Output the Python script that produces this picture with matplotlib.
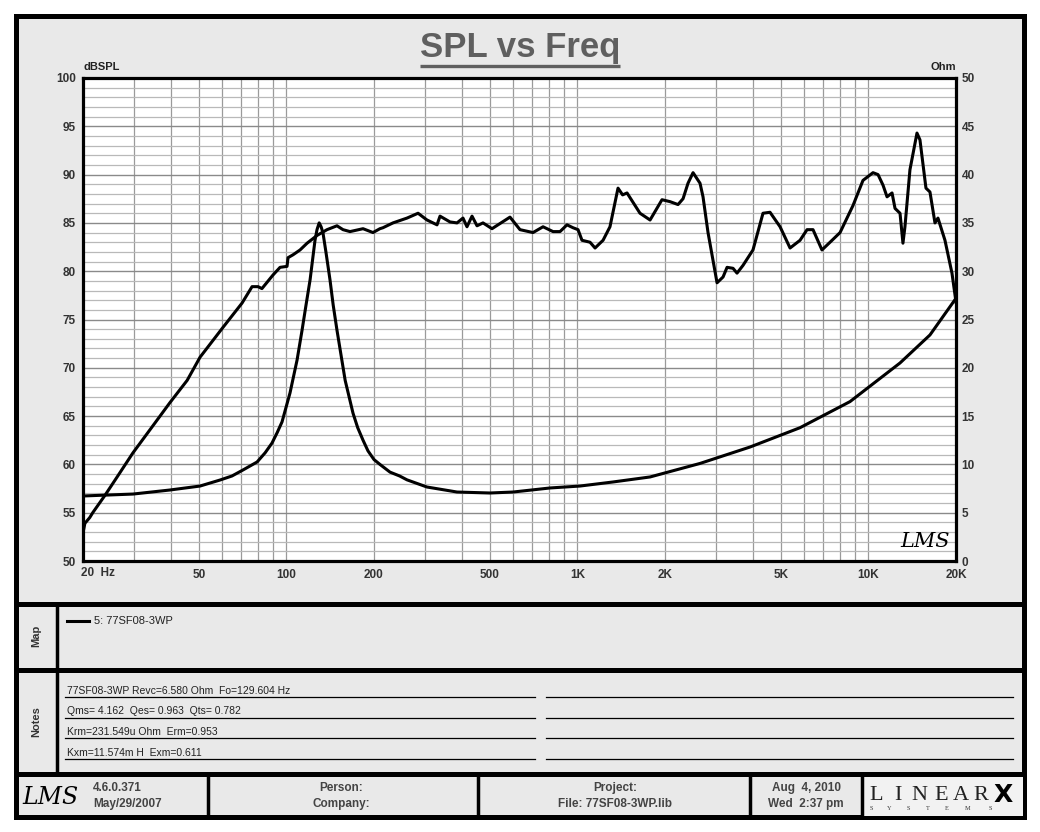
import matplotlib
matplotlib.use("Agg")
import matplotlib.pyplot as plt
from matplotlib.patches import Rectangle
from matplotlib.ticker import FixedLocator, NullFormatter

plt.rcParams['font.family'] = ['Liberation Sans', 'DejaVu Sans']

# ---------------- data ----------------
spl_freq = [20, 20.3, 21.1, 21.6, 23.8, 26.2, 29.7, 34.0, 39.8, 45.6, 50.5, 60.6, 70.4,
            76.2, 79.9, 82.4, 89.9, 95.1, 100.5, 101.3, 105.4, 111.4, 117.8, 127.4,
            137.9, 149.2, 156.5, 165.4, 183.4, 198.4, 209.6, 214.7, 232.4, 259.7,
            283.4, 304.2, 329.3, 337.2, 364.9, 385.7, 404.4, 417.4, 434.4, 451.9,
            473.8, 508.8, 533.5, 586.6, 634.9, 703.9, 761.9, 824.6, 871.6, 921.1,
            965.8, 1005, 1037, 1105, 1150, 1196, 1225, 1294, 1379, 1430, 1481, 1641,
            1777, 1953, 2081, 2217, 2307, 2399, 2497, 2639, 2702, 2811, 3019, 3166,
            3268, 3426, 3536, 3707, 4012, 4343, 4591, 4971, 5380, 5822, 6154, 6452,
            6925, 7383, 7991, 8853, 9580, 9969, 10371, 10794, 11228, 11589, 12057,
            12346, 12843, 13144, 13353, 13892, 14686, 15037, 15768, 16277, 16934,
            17340, 18328, 19372, 20000]
spl_db = [52.9, 53.9, 54.5, 55.0, 56.8, 58.7, 61.2, 63.6, 66.4, 68.7, 71.1, 74.2, 76.7,
          78.4, 78.4, 78.2, 79.6, 80.4, 80.5, 81.4, 81.7, 82.2, 82.9, 83.7,
          84.3, 84.7, 84.3, 84.1, 84.4, 84.0, 84.4, 84.5, 85.0, 85.5,
          86.0, 85.3, 84.8, 85.7, 85.1, 85.0, 85.5, 84.6, 85.7, 84.7,
          85.0, 84.4, 84.8, 85.6, 84.3, 84.0, 84.6, 84.1, 84.1, 84.8,
          84.5, 84.3, 83.2, 83.0, 82.4, 82.9, 83.2, 84.6, 88.6, 87.9, 88.1, 86.0,
          85.3, 87.4, 87.2, 86.9, 87.5, 89.1, 90.2, 89.1, 87.7, 84.0, 78.8, 79.4,
          80.4, 80.3, 79.8, 80.6, 82.2, 86.0, 86.1, 84.6, 82.4, 83.2, 84.3, 84.3,
          82.2, 83.0, 84.0, 86.8, 89.4, 89.8, 90.2, 90.0, 88.9, 87.7, 88.1,
          86.5, 86.0, 82.9, 84.6, 90.5, 94.3, 93.6, 88.6, 88.2, 85.0,
          85.5, 83.2, 79.8, 76.8]

imp_freq = [20, 29.7, 39.8, 50.5, 59.1, 65.0, 70.9, 79.3, 84.5, 89.2, 93.0, 96.6, 102.9,
            108.8, 113.2, 116.8, 120.6, 125.4, 127.4, 129.6, 131.6, 133.6, 136.7, 141.2,
            144.8, 149.2, 159.2, 169.4, 175.8, 183.4, 190.7, 200, 209.6, 227, 245,
            259.7, 304, 385.7, 500.8, 600.9, 805, 1021, 1325, 1777, 2639, 3920, 5822,
            8645, 12843, 16277, 20000]
imp_ohm = [6.73, 6.93, 7.35, 7.76, 8.38, 8.8, 9.42, 10.25, 11.2, 12.2, 13.3, 14.4, 17.4,
           20.8, 23.9, 26.5, 29.1, 33.2, 34.3, 35.0, 34.6, 33.95, 32.0, 29.1,
           26.5, 23.9, 18.7, 15.3, 13.8, 12.5, 11.4, 10.5, 10.0, 9.2, 8.8,
           8.4, 7.66, 7.14, 7.04, 7.14, 7.56, 7.76, 8.18, 8.7, 10.1, 11.8, 13.8,
           16.5, 20.5, 23.4, 27.2]

x_major = [20, 50, 100, 200, 500, 1000, 2000, 5000, 10000, 20000]
x_labels = ['', '50', '100', '200', '500', '1K', '2K', '5K', '10K', '20K']
x_grid = [20, 30, 40, 50, 60, 70, 80, 90, 100, 200, 300, 400, 500, 600, 700, 800, 900,
          1000, 2000, 3000, 4000, 5000, 6000, 7000, 8000, 9000, 10000, 20000]
db_ticks = list(range(50, 101, 5))
ohm_ticks = list(range(0, 51, 5))

title = 'SPL vs Freq'
legend_label = '5: 77SF08-3WP'
notes = ['77SF08-3WP Revc=6.580 Ohm  Fo=129.604 Hz',
         'Qms= 4.162  Qes= 0.963  Qts= 0.782',
         'Krm=231.549u Ohm  Erm=0.953',
         'Kxm=11.574m H  Exm=0.611']
footer = [('4.6.0.371', 'May/29/2007'), ('Person:', 'Company:'),
          ('Project:', 'File: 77SF08-3WP.lib'), ('Aug  4, 2010', 'Wed  2:37 pm')]

# ---------------- figure ----------------
W, H = 1040, 832
fig = plt.figure(figsize=(W / 100, H / 100), dpi=100)
fig.patch.set_facecolor('white')

bg = fig.add_axes([0, 0, 1, 1], zorder=0)
bg.set_xlim(0, W)
bg.set_ylim(H, 0)
bg.axis('off')

PANEL = '#e9e9e9'
bg.add_patch(Rectangle((16, 16), 1008, 801, facecolor=PANEL, edgecolor='black', lw=3.6))
for yy in (604, 670, 774):
    bg.plot([16, 1024], [yy, yy], color='black', lw=3.6, solid_capstyle='butt')
bg.plot([57, 57], [604, 774], color='black', lw=2.5)
bg.add_patch(Rectangle((862, 775), 161, 41, facecolor='#f2f2f2', edgecolor='none'))
for xx in (208, 478, 750, 862):
    bg.plot([xx, xx], [774, 817], color='black', lw=2.5)

# title
bg.text(520, 48, title, ha='center', va='center', fontsize=25, fontweight='bold',
        color='#5f5f5f')
bg.plot([420, 620], [66, 66], color='#5f5f5f', lw=2.4, solid_capstyle='butt')

# axis captions
bg.text(83, 67, 'dBSPL', ha='left', va='center', fontsize=8, fontweight='bold', color='#222222')
bg.text(956, 67, 'Ohm', ha='right', va='center', fontsize=8, fontweight='bold', color='#222222')
bg.text(81, 573, '20  Hz', ha='left', va='center', fontsize=8.5, fontweight='bold', color='#333333')

# Map panel
bg.text(36, 636, 'Map', rotation=90, ha='center', va='center', fontsize=8,
        fontweight='bold', color='#333333')
bg.plot([67, 89], [621, 621], color='black', lw=2.2)
bg.text(94, 621, legend_label, ha='left', va='center', fontsize=8, color='#222222')

# Notes panel
bg.text(36, 722, 'Notes', rotation=90, ha='center', va='center', fontsize=8,
        fontweight='bold', color='#333333')
for i, line in enumerate(notes):
    yl = 697 + i * 20.7
    bg.text(67, yl - 1.5, line, ha='left', va='bottom', fontsize=7.5, color='#222222')
    bg.plot([65, 535], [yl, yl], color='black', lw=0.9)
    bg.plot([546, 1013], [yl, yl], color='black', lw=0.9)

# footer
fx = [93, 341, 615, 806]
for i, (a, b) in enumerate(footer):
    ha = 'left' if i == 0 else 'center'
    bg.text(fx[i], 788, a, ha=ha, va='center', fontsize=8.5, fontweight='bold', color='#444444')
    bg.text(fx[i], 804, b, ha=ha, va='center', fontsize=8.5, fontweight='bold', color='#444444')
bg.text(50, 797, 'LMS', ha='center', va='center', fontsize=17, style='italic',
        family='DejaVu Serif', color='black')
for ch, xx in zip('LINEAR', [876, 898, 919, 941, 961, 981]):
    bg.text(xx, 795, ch, ha='center', va='center', fontsize=16, family='Liberation Serif',
            color='#222222')
bg.text(1003, 795, 'X', ha='center', va='center', fontsize=18, fontweight='bold',
        family='DejaVu Sans', color='black')
for ch, xx in zip('SYSTEMS', [871, 889, 908, 928, 947, 968, 990]):
    bg.text(xx, 808, ch, ha='center', va='center', fontsize=4.5, family='Liberation Serif',
            color='#333333')

# ---------------- chart axes ----------------
L, R, T, B = 83, 956, 78, 561
ax = fig.add_axes([L / W, 1 - B / H, (R - L) / W, (B - T) / H], zorder=2)
ax.set_facecolor('white')
ax.set_xscale('log')
ax.set_xlim(20, 20000)
ax.set_ylim(50, 100)

ax.xaxis.set_major_locator(FixedLocator(x_major))
ax.xaxis.set_minor_locator(FixedLocator(x_grid))
ax.xaxis.set_minor_formatter(NullFormatter())
ax.set_xticklabels(x_labels)
ax.yaxis.set_major_locator(FixedLocator(db_ticks))
ax.yaxis.set_minor_locator(FixedLocator(list(range(50, 101))))
ax.tick_params(axis='both', which='both', length=0)
ax.tick_params(axis='x', pad=6, labelsize=8.5, labelcolor='#333333')
ax.tick_params(axis='y', pad=5, labelsize=8.5, labelcolor='#333333')
for lab in ax.get_xticklabels() + ax.get_yticklabels():
    lab.set_fontweight('bold')

ax.grid(axis='y', which='minor', color='#b9b9b9', lw=0.9)
ax.grid(axis='y', which='major', color='#8a8a8a', lw=1.0)
ax.grid(axis='x', which='both', color='#9a9a9a', lw=0.9)
ax.set_axisbelow(True)
for sp in ax.spines.values():
    sp.set_linewidth(2.3)
    sp.set_color('black')
    sp.set_zorder(5)

ax.plot(spl_freq, spl_db, color='black', lw=2.2, solid_joinstyle='round', zorder=3)

ax2 = ax.twinx()
ax2.set_ylim(0, 50)
ax2.yaxis.set_major_locator(FixedLocator(ohm_ticks))
ax2.tick_params(axis='y', length=0, pad=4, labelsize=8.5, labelcolor='#333333')
for lab in ax2.get_yticklabels():
    lab.set_fontweight('bold')
for sp in ax2.spines.values():
    sp.set_visible(False)
ax2.plot(imp_freq, imp_ohm, color='black', lw=2.2, solid_joinstyle='round', zorder=3)

ax.text(0.965, 0.04, 'LMS', transform=ax.transAxes, ha='center', va='center',
        fontsize=15, style='italic', family='DejaVu Serif', color='black', zorder=6)

fig.savefig('out.png', dpi=100, facecolor='white')
